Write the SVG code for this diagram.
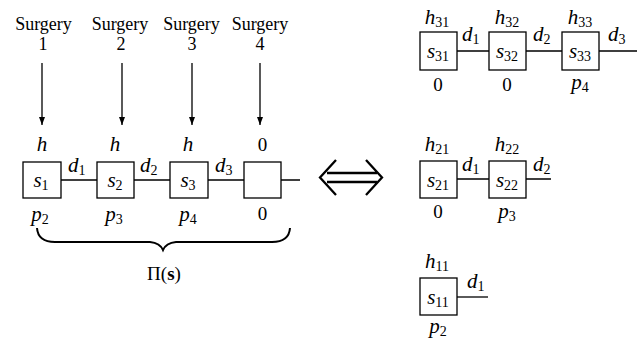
<svg xmlns="http://www.w3.org/2000/svg" width="639" height="343" viewBox="0 0 639 343">
<style>
text{font-family:"Liberation Serif","Times New Roman",serif;font-size:19px;fill:#000}
.i{font-style:italic;font-size:21px}
.sub{font-size:14px;font-style:normal}
.t{font-size:18px}
.box{fill:#fff;stroke:#000;stroke-width:1.3}
.ln{stroke:#000;stroke-width:1.3;fill:none}
</style>
<defs>
<marker id="ah" viewBox="0 0 8 6" refX="8" refY="3" markerWidth="8" markerHeight="6" markerUnits="userSpaceOnUse" orient="auto">
<path d="M0,0 L8,3 L0,6 Z" fill="#000"/>
</marker>
</defs>
<g id="surgery-labels" text-anchor="middle">
<text class="t" x="43.5" y="30">Surgery</text><text class="t" x="43" y="50">1</text>
<text class="t" x="120" y="30">Surgery</text><text class="t" x="121" y="50">2</text>
<text class="t" x="191.5" y="30">Surgery</text><text class="t" x="192" y="50">3</text>
<text class="t" x="260" y="30">Surgery</text><text class="t" x="260" y="50">4</text>
</g>
<g id="connectors">
<line class="ln" x1="42" y1="63" x2="42" y2="125" marker-end="url(#ah)"/>
<line class="ln" x1="122" y1="63" x2="122" y2="125" marker-end="url(#ah)"/>
<line class="ln" x1="192" y1="63" x2="192" y2="125" marker-end="url(#ah)"/>
<line class="ln" x1="260" y1="63" x2="260" y2="125" marker-end="url(#ah)"/>
<path class="ln" d="M61,180 H97 M134,180 H170 M208,180 H244 M281,180 H300"/>
<path class="ln" d="M457,51 H489 M526,51 H562 M599,51 H637"/>
<path class="ln" d="M457,179 H489 M526,179 H551"/>
<path class="ln" d="M457,297 H488"/>
</g>
<g id="left-node-1">
<rect class="box" x="23" y="162" width="38" height="36"/>
<text class="i" x="42" y="151" text-anchor="middle">h</text>
<text class="i" x="41" y="187" text-anchor="middle">s<tspan class="sub" dy="3">1</tspan></text>
<text class="i" x="40" y="221" text-anchor="middle">p<tspan class="sub" dy="3">2</tspan></text>
</g>
<g id="left-node-2">
<rect class="box" x="97" y="162" width="37" height="36"/>
<text class="i" x="115" y="151" text-anchor="middle">h</text>
<text class="i" x="115" y="187" text-anchor="middle">s<tspan class="sub" dy="3">2</tspan></text>
<text class="i" x="114" y="221" text-anchor="middle">p<tspan class="sub" dy="3">3</tspan></text>
</g>
<g id="left-node-3">
<rect class="box" x="170" y="162" width="38" height="36"/>
<text class="i" x="188" y="151" text-anchor="middle">h</text>
<text class="i" x="188" y="187" text-anchor="middle">s<tspan class="sub" dy="3">3</tspan></text>
<text class="i" x="188" y="221" text-anchor="middle">p<tspan class="sub" dy="3">4</tspan></text>
</g>
<g id="left-node-4">
<rect class="box" x="244" y="162" width="37" height="36"/>
<text x="262.5" y="151" text-anchor="middle">0</text>
<text x="262.5" y="220" text-anchor="middle">0</text>
</g>
<g id="left-edge-labels">
<text class="i" x="68" y="172">d<tspan class="sub" dy="3">1</tspan></text>
<text class="i" x="140" y="172">d<tspan class="sub" dy="3">2</tspan></text>
<text class="i" x="215" y="172">d<tspan class="sub" dy="3">3</tspan></text>
</g>
<g id="brace">
<path d="M37,228 Q38,242 55,242 L150,242 Q160,243 163,250 Q166,243 176,242 L272,242 Q289,242 290,228" fill="none" stroke="#000" stroke-width="2"/>
<text x="164" y="280" text-anchor="middle" font-size="20">Π(<tspan font-weight="bold">s</tspan>)</text>
</g>
<g id="equivalence">
<path d="M327,173 H377 M327,182 H377 M336,160 L320,177.5 L336,195 M366,160 L382,177.5 L366,195" fill="none" stroke="#000" stroke-width="2.3"/>
</g>
<g id="node-s31">
<rect class="box" x="420" y="32" width="37" height="38"/>
<text class="i" x="437" y="24" text-anchor="middle">h<tspan class="sub" dy="3">31</tspan></text>
<text class="i" x="438" y="58" text-anchor="middle">s<tspan class="sub" dy="3">31</tspan></text>
<text x="438" y="91" text-anchor="middle">0</text>
</g>
<g id="node-s32">
<rect class="box" x="489" y="32" width="37" height="38"/>
<text class="i" x="507" y="24" text-anchor="middle">h<tspan class="sub" dy="3">32</tspan></text>
<text class="i" x="507" y="58" text-anchor="middle">s<tspan class="sub" dy="3">32</tspan></text>
<text x="507" y="91" text-anchor="middle">0</text>
</g>
<g id="node-s33">
<rect class="box" x="562" y="32" width="37" height="38"/>
<text class="i" x="580" y="24" text-anchor="middle">h<tspan class="sub" dy="3">33</tspan></text>
<text class="i" x="580" y="58" text-anchor="middle">s<tspan class="sub" dy="3">33</tspan></text>
<text class="i" x="580" y="89" text-anchor="middle">p<tspan class="sub" dy="3">4</tspan></text>
</g>
<g id="row3-edge-labels">
<text class="i" x="462" y="41">d<tspan class="sub" dy="3">1</tspan></text>
<text class="i" x="533" y="41">d<tspan class="sub" dy="3">2</tspan></text>
<text class="i" x="608" y="41">d<tspan class="sub" dy="3">3</tspan></text>
</g>
<g id="node-s21">
<rect class="box" x="420" y="161" width="37" height="37"/>
<text class="i" x="437" y="151" text-anchor="middle">h<tspan class="sub" dy="3">21</tspan></text>
<text class="i" x="438" y="187" text-anchor="middle">s<tspan class="sub" dy="3">21</tspan></text>
<text x="438" y="218" text-anchor="middle">0</text>
</g>
<g id="node-s22">
<rect class="box" x="489" y="161" width="37" height="37"/>
<text class="i" x="507" y="151" text-anchor="middle">h<tspan class="sub" dy="3">22</tspan></text>
<text class="i" x="507" y="187" text-anchor="middle">s<tspan class="sub" dy="3">22</tspan></text>
<text class="i" x="507" y="218" text-anchor="middle">p<tspan class="sub" dy="3">3</tspan></text>
</g>
<g id="row2-edge-labels">
<text class="i" x="462" y="171">d<tspan class="sub" dy="3">1</tspan></text>
<text class="i" x="533" y="171">d<tspan class="sub" dy="3">2</tspan></text>
</g>
<g id="node-s11">
<rect class="box" x="420" y="278" width="37" height="37"/>
<text class="i" x="437" y="268" text-anchor="middle">h<tspan class="sub" dy="3">11</tspan></text>
<text class="i" x="438" y="304" text-anchor="middle">s<tspan class="sub" dy="3">11</tspan></text>
<text class="i" x="438" y="333" text-anchor="middle">p<tspan class="sub" dy="3">2</tspan></text>
<text class="i" x="467" y="288">d<tspan class="sub" dy="3">1</tspan></text>
</g>
</svg>
